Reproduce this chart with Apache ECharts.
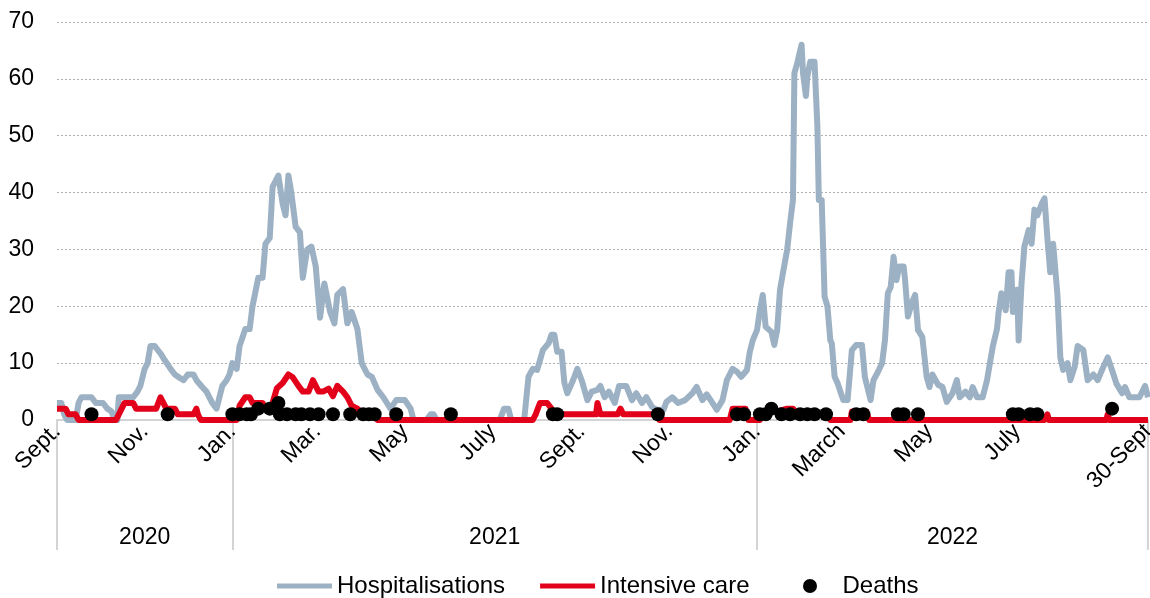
<!DOCTYPE html>
<html>
<head>
<meta charset="utf-8">
<script src="https://cdn.jsdelivr.net/npm/echarts@6/dist/echarts.min.js"></script>
<style>
  html, body { margin: 0; padding: 0; background: #fff; }
  #chart { width: 1150px; height: 598px; }
</style>
</head>
<body>
<div id="chart"></div>
<script>
// values (daily series, kinks only)
const hospitalisations = [
  ['2020-09-01',3],['2020-09-04',3],['2020-09-06',1],['2020-09-08',0],['2020-09-14',0],['2020-09-16',3],
  ['2020-09-18',4],['2020-09-25',4],['2020-09-28',3],['2020-10-03',3],['2020-10-06',2],['2020-10-09',1.5],
  ['2020-10-11',0],['2020-10-13',0],['2020-10-14',4],['2020-10-24',4],['2020-10-27',5],['2020-10-29',6],
  ['2020-11-01',9],['2020-11-03',10],['2020-11-05',13],['2020-11-08',13],['2020-11-12',11.7],['2020-11-15',10.5],
  ['2020-11-19',9],['2020-11-22',8],['2020-11-26',7.3],['2020-11-28',7],['2020-12-01',8],['2020-12-05',8],
  ['2020-12-07',7],['2020-12-11',5.8],['2020-12-14',5],['2020-12-18',3],['2020-12-21',2],['2020-12-23',4],
  ['2020-12-25',6],['2020-12-28',7],['2020-12-30',8],['2021-01-01',10],['2021-01-04',9],['2021-01-06',13],
  ['2021-01-10',16],['2021-01-13',16],['2021-01-15',20],['2021-01-19',25],['2021-01-22',25],['2021-01-24',31],
  ['2021-01-27',32],['2021-01-29',41],['2021-02-02',43],['2021-02-05',38],['2021-02-07',36],['2021-02-09',43],
  ['2021-02-11',40],['2021-02-14',34],['2021-02-17',33],['2021-02-19',25],['2021-02-22',30],['2021-02-25',30.5],
  ['2021-02-28',27],['2021-03-03',18],['2021-03-06',24],['2021-03-10',19],['2021-03-13',17],['2021-03-15',22],
  ['2021-03-19',23],['2021-03-22',17],['2021-03-25',19],['2021-03-29',16],['2021-04-01',10],['2021-04-05',8],
  ['2021-04-08',7.6],['2021-04-12',5.3],['2021-04-16',4],['2021-04-21',2],['2021-04-25',3.5],['2021-05-01',3.5],
  ['2021-05-05',2],['2021-05-07',0],['2021-05-16',0],['2021-05-19',1],['2021-05-21',1],['2021-05-23',0],
  ['2021-07-06',0],['2021-07-09',2],['2021-07-12',2],['2021-07-14',0],['2021-07-23',0],['2021-07-26',7.6],
  ['2021-07-29',9],['2021-08-01',8.8],['2021-08-03',10.5],['2021-08-05',12.3],['2021-08-09',13.5],['2021-08-11',15],
  ['2021-08-13',15],['2021-08-15',12],['2021-08-18',12],['2021-08-20',6.5],['2021-08-22',4.7],['2021-08-26',7],
  ['2021-08-29',9],['2021-09-01',7],['2021-09-05',3.5],['2021-09-08',5],['2021-09-12',5.3],['2021-09-14',6],
  ['2021-09-17',4],['2021-09-20',5],['2021-09-24',3],['2021-09-27',6],['2021-10-02',6],['2021-10-06',3.5],
  ['2021-10-09',4.7],['2021-10-13',3],['2021-10-16',4],['2021-10-20',2.3],['2021-10-23',1.8],['2021-10-28',1.8],
  ['2021-10-30',3.2],['2021-11-03',4],['2021-11-07',3],['2021-11-12',3.5],['2021-11-17',4.7],['2021-11-20',5.8],
  ['2021-11-24',3.5],['2021-11-27',4.5],['2021-12-01',3],['2021-12-04',1.8],['2021-12-08',3.5],['2021-12-11',7],
  ['2021-12-15',9],['2021-12-18',8.5],['2021-12-21',7.6],['2021-12-25',8.8],['2021-12-27',12],['2021-12-29',14],
  ['2022-01-01',15.8],['2022-01-03',19.3],['2022-01-05',22],['2022-01-07',16.4],['2022-01-11',15.5],['2022-01-13',13.2],
  ['2022-01-15',15.8],['2022-01-17',22.9],['2022-01-19',25.8],['2022-01-22',30],['2022-01-24',34.6],['2022-01-26',38.7],
  ['2022-01-27',61],['2022-01-29',62.8],['2022-02-01',66],['2022-02-02',61],['2022-02-04',57],['2022-02-05',60.4],
  ['2022-02-07',63],['2022-02-10',63],['2022-02-12',51.6],['2022-02-13',38.7],['2022-02-15',38.7],['2022-02-17',21.7],
  ['2022-02-19',20],['2022-02-21',14],['2022-02-22',13.5],['2022-02-24',7.6],['2022-02-26',6.5],['2022-03-02',3.5],
  ['2022-03-05',3.5],['2022-03-08',12.3],['2022-03-11',13.2],['2022-03-15',13.2],['2022-03-17',7.6],['2022-03-21',3.5],
  ['2022-03-23',7],['2022-03-26',8.4],['2022-03-29',10],['2022-03-31',14],['2022-04-02',22.3],['2022-04-04',23.4],
  ['2022-04-06',28.7],['2022-04-08',24.6],['2022-04-10',27],['2022-04-13',27],['2022-04-14',24.6],['2022-04-16',18.2],
  ['2022-04-19',20.8],['2022-04-21',22],['2022-04-23',15.8],['2022-04-26',14.6],['2022-04-29',7.6],['2022-05-01',5.8],
  ['2022-05-03',8],['2022-05-07',6.2],['2022-05-10',5.8],['2022-05-13',3.2],['2022-05-17',4.7],['2022-05-20',7],
  ['2022-05-22',4],['2022-05-26',5],['2022-05-29',4],['2022-05-31',5.8],['2022-06-03',4],['2022-06-07',4],
  ['2022-06-10',7],['2022-06-12',10],['2022-06-14',12.9],['2022-06-17',16.1],['2022-06-18',18.8],['2022-06-20',22.3],
  ['2022-06-23',19.3],['2022-06-25',26],['2022-06-27',26],['2022-06-28',19],['2022-07-01',22.9],['2022-07-02',14],
  ['2022-07-04',24],['2022-07-06',30.5],['2022-07-09',33.4],['2022-07-11',31],['2022-07-13',37],['2022-07-15',36],
  ['2022-07-18',38],['2022-07-20',39],['2022-07-22',32],['2022-07-24',26],['2022-07-26',31],['2022-07-29',22],
  ['2022-07-31',11],['2022-08-02',8.8],['2022-08-05',10],['2022-08-07',7],['2022-08-10',9.4],['2022-08-12',13],
  ['2022-08-16',12.3],['2022-08-19',7],['2022-08-23',8],['2022-08-26',7],['2022-08-30',9.4],['2022-09-02',11],
  ['2022-09-06',8],['2022-09-08',6.4],['2022-09-12',4.7],['2022-09-14',5.8],['2022-09-17',4],['2022-09-24',4],
  ['2022-09-28',6],['2022-09-30',4]
];

const intensiveCare = [
  ['2020-09-01',2],['2020-09-07',2],['2020-09-09',1],['2020-09-14',1],['2020-09-16',0],['2020-10-12',0],
  ['2020-10-14',1],['2020-10-16',2],['2020-10-18',3],['2020-10-24',3],['2020-10-26',2],['2020-11-09',2],
  ['2020-11-12',4],['2020-11-14',3],['2020-11-16',2],['2020-11-22',2],['2020-11-24',1],['2020-12-05',1],
  ['2020-12-07',2],['2020-12-08',1],['2020-12-10',0],['2021-01-04',0],['2021-01-06',2.5],['2021-01-10',4],
  ['2021-01-13',4],['2021-01-15',3],['2021-01-22',3],['2021-01-24',2],['2021-01-27',2],['2021-01-29',3],
  ['2021-02-01',5.6],['2021-02-05',6.5],['2021-02-09',8],['2021-02-12',7.5],['2021-02-16',6],['2021-02-19',5],
  ['2021-02-23',5],['2021-02-26',7],['2021-03-02',5],['2021-03-05',5],['2021-03-09',5.5],['2021-03-12',4.2],
  ['2021-03-15',6],['2021-03-19',5],['2021-03-22',4],['2021-03-25',2.5],['2021-03-29',2],['2021-04-02',1],
  ['2021-04-09',1],['2021-04-12',0],['2021-07-29',0],['2021-07-31',1],['2021-08-03',3],['2021-08-08',3],
  ['2021-08-11',2],['2021-08-13',1],['2021-09-11',1],['2021-09-12',3],['2021-09-14',1],['2021-09-26',1],
  ['2021-09-28',2],['2021-09-30',1],['2021-10-23',1],['2021-10-25',0],['2021-12-13',0],['2021-12-15',2],
  ['2021-12-24',2],['2021-12-26',0],['2022-01-03',0],['2022-01-05',1.5],['2022-01-15',1.5],['2022-01-22',2],
  ['2022-01-26',2],['2022-01-29',1],['2022-02-18',1],['2022-02-21',0],['2022-03-07',0],['2022-03-08',1.5],
  ['2022-03-18',1.5],['2022-03-20',0],['2022-07-20',0],['2022-07-22',1],['2022-07-23',0],['2022-09-01',0],
  ['2022-09-02',1],['2022-09-03',0],['2022-09-30',0]
];

const deaths = [
  ['2020-09-25',1],['2020-11-17',1],
  ['2021-01-01',1],['2021-01-06',1],['2021-01-11',1],['2021-01-14',1],['2021-01-19',2],['2021-01-27',2],
  ['2021-02-02',3],['2021-02-03',1],['2021-02-08',1],['2021-02-14',1],['2021-02-18',1],['2021-02-24',1],
  ['2021-03-02',1],['2021-03-12',1],['2021-03-24',1],['2021-04-02',1],['2021-04-06',1],['2021-04-10',1],
  ['2021-04-25',1],['2021-06-02',1],['2021-08-12',1],['2021-08-15',1],['2021-10-24',1],['2021-12-18',1],
  ['2021-12-23',1],['2022-01-03',1],['2022-01-07',1],['2022-01-11',2],['2022-01-18',1],['2022-01-24',1],
  ['2022-01-31',1],['2022-02-05',1],['2022-02-10',1],['2022-02-18',1],['2022-03-11',1],['2022-03-16',1],
  ['2022-04-09',1],['2022-04-13',1],['2022-04-23',1],['2022-06-28',1],['2022-07-02',1],['2022-07-10',1],
  ['2022-07-15',1],['2022-09-05',2]
];

const monthTicks  = ['2020-09-01','2020-11-01','2021-01-01','2021-03-01','2021-05-01','2021-07-01',
                     '2021-09-01','2021-11-01','2022-01-01','2022-03-01','2022-05-01','2022-07-01','2022-09-30'];
const monthLabels = ['Sept.','Nov.','Jan.','Mar.','May','July','Sept.','Nov.','Jan.','March','May','July','30-Sept'];
const yearBounds  = ['2020-09-01','2021-01-01','2022-01-01','2022-09-30'];
const yearLabels  = ['2020','2021','2022'];

const FONT = "'Liberation Sans', Arial, Helvetica, sans-serif";
const GREY = '#9cb1c3';
const RED = '#e2001a';

// dates -> day timestamps (UTC, so the spacing is exact days)
function ts(s) {
  const [y, m, d] = s.split('-').map(Number);
  return Date.UTC(y, m - 1, d);
}
const toPoints = arr => arr.map(([d, v]) => [ts(d), v]);

const monthTs = monthTicks.map(ts);
const boundTs = yearBounds.map(ts);
const yearMidTs = yearLabels.map((_, i) => (boundTs[i] + boundTs[i + 1]) / 2);

// flat bar icon for the line legend entries (zero-length corners keep the full box height)
const LINE_ICON = 'path://M0,0L0,0M0,4.5L55,4.5L55,9.5L0,9.5ZM55,14L55,14';

const legendBase = {
  bottom: 0, padding: 0, itemGap: 35, itemWidth: 55, itemHeight: 14,
  textStyle: { fontSize: 24, color: '#000', fontFamily: FONT }
};

const chart = echarts.init(document.getElementById('chart'), null, { renderer: 'canvas' });

chart.setOption({
  animation: false,
  textStyle: { fontFamily: FONT },
  grid: { left: 57, right: 2, top: 22, bottom: 178, outerBoundsMode: 'none' },
  legend: [
    Object.assign({}, legendBase, {
      left: 277,
      data: [
        { name: 'Hospitalisations', icon: LINE_ICON },
        { name: 'Intensive care', icon: LINE_ICON }
      ]
    }),
    Object.assign({}, legendBase, {
      left: 803,
      data: [{ name: 'Deaths', icon: 'circle' }]
    })
  ],
  xAxis: [{
    type: 'value',
    min: boundTs[0], max: boundTs[3],
    axisLine: { lineStyle: { color: '#d4d4d4', width: 2 } },
    axisTick: { show: true, customValues: boundTs, length: 130, lineStyle: { color: '#d4d4d4', width: 2 } },
    splitLine: { show: false },
    axisLabel: {
      customValues: monthTs, rotate: 45, margin: 8, fontSize: 23, color: '#000', fontFamily: FONT,
      formatter: v => monthLabels[monthTs.indexOf(v)] ?? ''
    }
  }, {
    type: 'value', position: 'bottom',
    min: boundTs[0], max: boundTs[3],
    axisLine: { show: false }, axisTick: { show: false }, splitLine: { show: false },
    axisLabel: {
      customValues: yearMidTs, margin: 106, fontSize: 23, color: '#000', fontFamily: FONT,
      formatter: v => yearLabels[yearMidTs.indexOf(v)] ?? ''
    }
  }],
  yAxis: {
    type: 'value', min: 0, max: 70, interval: 10,
    axisLine: { show: false }, axisTick: { show: false },
    axisLabel: { margin: 23, fontSize: 23, color: '#000', fontFamily: FONT },
    splitLine: { lineStyle: { color: '#b0b0b0', type: [2, 2], width: 1 } }
  },
  series: [{
    name: 'Hospitalisations', type: 'line', symbol: 'none',
    lineStyle: { color: GREY, width: 6, join: 'round' }, itemStyle: { color: GREY },
    data: toPoints(hospitalisations), z: 2
  }, {
    name: 'Intensive care', type: 'line', symbol: 'none',
    lineStyle: { color: RED, width: 6, join: 'round' }, itemStyle: { color: RED },
    data: toPoints(intensiveCare), z: 3
  }, {
    name: 'Deaths', type: 'scatter', symbol: 'circle', symbolSize: 14,
    itemStyle: { color: '#000', opacity: 1 },
    data: toPoints(deaths), z: 4
  }]
});
</script>
</body>
</html>
